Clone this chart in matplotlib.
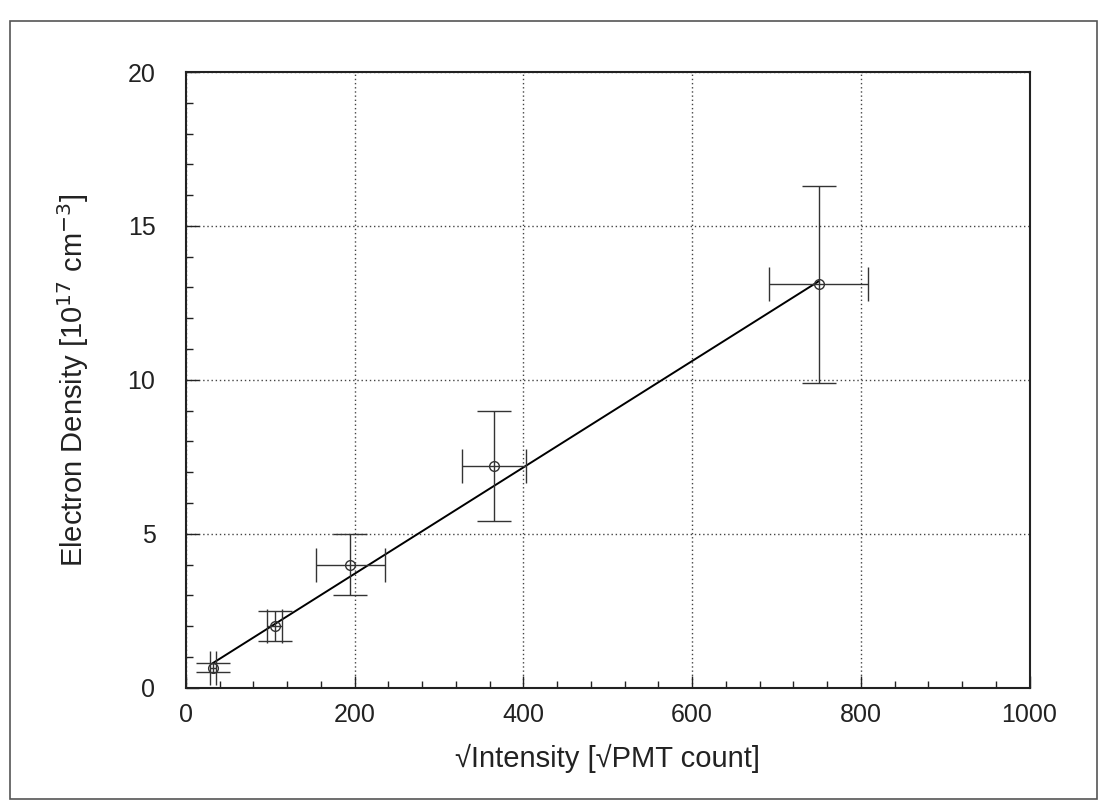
import matplotlib
matplotlib.use("Agg")
import matplotlib.pyplot as plt
import matplotlib.ticker as ticker
from matplotlib.patches import Rectangle

plt.rcParams['font.family'] = ['Liberation Sans', 'DejaVu Sans']

sqrt_intensity = [32, 105, 195, 365, 750]
x_err = [4, 9, 41, 38, 59]
density = [0.65, 2.0, 4.0, 7.2, 13.1]
y_err = [0.15, 0.5, 1.0, 1.8, 3.2]

# linear fit drawn on the original
fit_x = [32, 750]
fit_y = [0.8, 13.2]

x_ticks = [0, 200, 400, 600, 800, 1000]
y_ticks = [0, 5, 10, 15, 20]

fig = plt.figure(figsize=(11.07, 8.09), dpi=100)
ax = fig.add_axes([0.168, 0.150, 0.762, 0.761])

ax.plot(fit_x, fit_y, color="black", lw=1.4, zorder=3)
ax.errorbar(sqrt_intensity, density, xerr=x_err, yerr=y_err, fmt="o",
            mfc="none", mec="#333333", ms=7, mew=1.0, ecolor="#333333",
            elinewidth=1.0, capsize=12, capthick=1.0, zorder=4)

ax.set_xlim(0, 1000)
ax.set_ylim(0, 20)
ax.set_xticks(x_ticks)
ax.set_yticks(y_ticks)
ax.xaxis.set_minor_locator(ticker.MultipleLocator(40))
ax.yaxis.set_minor_locator(ticker.MultipleLocator(1))
ax.tick_params(which="both", direction="in", colors="#222222", labelsize=18)
ax.tick_params(which="major", length=9, width=1.0)
ax.tick_params(which="minor", length=5, width=1.0)
ax.tick_params(axis="x", which="major", pad=11)
ax.tick_params(axis="y", which="major", pad=22)

ax.grid(which="major", linestyle=(0, (1, 2)), color="#444444", lw=1.0)
for sp in ax.spines.values():
    sp.set_linewidth(1.5)
    sp.set_color("#222222")

ax.set_xlabel("\u221aIntensity [\u221aPMT count]", fontsize=21, labelpad=12, color="#222222")
ax.set_ylabel("Electron Density [10$^{17}$ cm$^{-3}$]", fontsize=21, labelpad=26, color="#222222")

# page frame from the scan
fig.patches.append(Rectangle((0.009, 0.012), 0.982, 0.962, transform=fig.transFigure,
                             fill=False, edgecolor="#555555", lw=1.2))

fig.savefig("out.png", dpi=100)
